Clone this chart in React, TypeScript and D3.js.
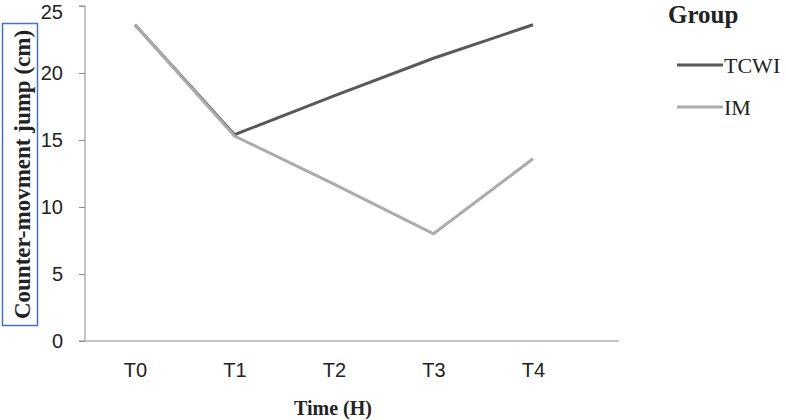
import React, { useEffect, useRef } from 'react';
import * as d3 from 'd3';

const times = ['T0', 'T1', 'T2', 'T3', 'T4'];
const tcwi = [23.6, 15.4, 18.3, 21.1, 23.6];
const im = [23.6, 15.3, 11.7, 8.0, 13.6];
const yTicks = [0, 5, 10, 15, 20, 25];

const series = [
    { name: 'TCWI', values: tcwi, color: '#595959' },
    { name: 'IM', values: im, color: '#ababab' }
];

const App = () => {
    const svgRef = useRef<SVGSVGElement>(null);

    useEffect(() => {
        const svgWidth = 786;
        const svgHeight = 420;
        const axisLeft = 85;
        const axisRight = 619;
        const top = 6;
        const bottom = 341;

        const svg = d3.select(svgRef.current)
            .attr('width', svgWidth)
            .attr('height', svgHeight);

        svg.selectAll('*').remove();

        const xScale = d3.scalePoint<string>()
            .domain(times)
            .range([135, 533]);

        const yScale = d3.scaleLinear()
            .domain([0, 25])
            .range([bottom, top]);

        // y axis
        const yAxis = svg.append('g')
            .attr('transform', `translate(${axisLeft}, 0)`)
            .call(d3.axisLeft(yScale).tickValues(yTicks).tickSize(6).tickPadding(16));
        yAxis.select('.domain').attr('stroke', '#8c8c8c').attr('d', `M-6,${top}H0V${bottom}`);
        yAxis.selectAll('.tick line').attr('stroke', '#8c8c8c');
        yAxis.selectAll<SVGTextElement, number>('.tick text')
            .attr('font-family', '"Liberation Sans", Arial, sans-serif')
            .attr('font-size', 20)
            .attr('fill', '#222')
            .attr('dy', d => (d === 25 ? '0.62em' : '0.32em'));

        // x axis
        svg.append('line')
            .attr('x1', axisLeft - 6)
            .attr('x2', axisRight)
            .attr('y1', bottom)
            .attr('y2', bottom)
            .attr('stroke', '#8c8c8c');

        const xAxis = svg.append('g')
            .attr('transform', `translate(0, ${bottom})`)
            .call(d3.axisBottom(xScale).tickSize(0).tickPadding(22));
        xAxis.select('.domain').remove();
        xAxis.selectAll('.tick text')
            .attr('font-family', '"Liberation Sans", Arial, sans-serif')
            .attr('font-size', 20)
            .attr('fill', '#222');

        // lines
        const line = d3.line<number>()
            .x((d, i) => xScale(times[i]) as number)
            .y(d => yScale(d));

        series.forEach(s => {
            svg.append('path')
                .datum(s.values)
                .attr('fill', 'none')
                .attr('stroke', s.color)
                .attr('stroke-width', 3)
                .attr('d', line);
        });

        // axis titles
        svg.append('text')
            .attr('x', 333)
            .attr('y', 415)
            .attr('text-anchor', 'middle')
            .attr('font-family', '"Liberation Serif", "Times New Roman", serif')
            .attr('font-weight', 'bold')
            .attr('font-size', 20)
            .attr('fill', '#222')
            .text('Time (H)');

        svg.append('rect')
            .attr('x', 2.5)
            .attr('y', 23.5)
            .attr('width', 35)
            .attr('height', 302)
            .attr('fill', 'none')
            .attr('stroke', '#4472c4')
            .attr('stroke-width', 1.5);

        svg.append('text')
            .attr('transform', 'translate(30, 174.5) rotate(-90)')
            .attr('text-anchor', 'middle')
            .attr('font-family', '"Liberation Serif", "Times New Roman", serif')
            .attr('font-weight', 'bold')
            .attr('font-size', 23)
            .attr('fill', '#222')
            .text('Counter-movment jump (cm)');

        // legend
        svg.append('text')
            .attr('x', 668)
            .attr('y', 23)
            .attr('font-family', '"Liberation Serif", "Times New Roman", serif')
            .attr('font-weight', 'bold')
            .attr('font-size', 25)
            .attr('fill', '#222')
            .text('Group');

        series.forEach((s, i) => {
            const ly = 65 + i * 42;
            svg.append('line')
                .attr('x1', 677)
                .attr('x2', 723)
                .attr('y1', ly)
                .attr('y2', ly)
                .attr('stroke', s.color)
                .attr('stroke-width', 3);
            svg.append('text')
                .attr('x', 724)
                .attr('y', ly + 8)
                .attr('font-family', '"Liberation Serif", "Times New Roman", serif')
                .attr('font-size', 22)
                .attr('fill', '#222')
                .text(s.name);
        });
    }, []);

    return (
        <svg ref={svgRef} style={{ position: 'absolute', left: 0, top: 0 }}></svg>
    );
};

export default App;
